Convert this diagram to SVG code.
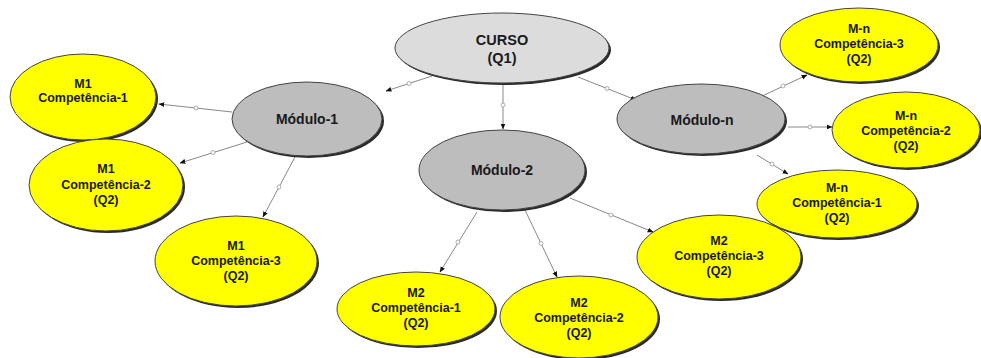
<svg xmlns="http://www.w3.org/2000/svg" width="981" height="358" viewBox="0 0 981 358">
<defs>
<marker id="arr" viewBox="0 0 10 10" refX="9" refY="5" markerWidth="6" markerHeight="6" orient="auto" markerUnits="userSpaceOnUse">
<path d="M0,1 L10,5 L0,9 z" fill="#111"/>
</marker>
<style>
.sh{fill:#2a2a2a}
.y{fill:#FFFF00;stroke:#444;stroke-width:1}
.g{fill:#BDBDBD;stroke:#444;stroke-width:1}
.c{fill:#DCDCDC;stroke:#444;stroke-width:1}
text{font-family:"Liberation Sans",Arial,sans-serif;font-weight:bold;fill:#1a1a1a;text-anchor:middle}
.t{font-size:12.5px}
.m{font-size:14px}
.cl{font-size:14.5px}
.ln{stroke:#888;stroke-width:1;fill:none;marker-end:url(#arr)}
.dot{fill:#fff;stroke:#999;stroke-width:0.8}
</style>
</defs>
<rect width="981" height="358" fill="#fff"/>
<g id="connectors">
<line class="ln" x1="432" y1="76" x2="386" y2="91"/>
<line class="ln" x1="503" y1="83" x2="503" y2="129"/>
<line class="ln" x1="578" y1="77" x2="636" y2="100"/>
<line class="ln" x1="232" y1="112" x2="159" y2="104"/>
<line class="ln" x1="247" y1="142" x2="180" y2="163"/>
<line class="ln" x1="295" y1="157" x2="263" y2="217"/>
<line class="ln" x1="477" y1="212" x2="440" y2="272"/>
<line class="ln" x1="525" y1="210" x2="557" y2="277"/>
<line class="ln" x1="570" y1="198" x2="653" y2="232"/>
<line class="ln" x1="760" y1="97" x2="807" y2="75"/>
<line class="ln" x1="788" y1="127" x2="832" y2="127"/>
<line class="ln" x1="757" y1="155" x2="788" y2="174"/>
<circle class="dot" cx="409" cy="83.5" r="2"/>
<circle class="dot" cx="503" cy="105" r="2"/>
<circle class="dot" cx="607" cy="88.5" r="2"/>
<circle class="dot" cx="196" cy="108" r="2"/>
<circle class="dot" cx="213" cy="152.5" r="2"/>
<circle class="dot" cx="279" cy="187" r="2"/>
<circle class="dot" cx="458" cy="242" r="2"/>
<circle class="dot" cx="541" cy="243.5" r="2"/>
<circle class="dot" cx="611" cy="215" r="2"/>
<circle class="dot" cx="783" cy="86" r="2"/>
<circle class="dot" cx="810" cy="127" r="2"/>
<circle class="dot" cx="772" cy="164" r="2"/>
</g>
<g id="curso">
<ellipse class="sh" cx="504" cy="50" rx="107" ry="35"/>
<ellipse class="c" cx="502" cy="48" rx="107" ry="35"/>
<text class="cl" x="502" y="45">CURSO</text>
<text class="cl" x="502" y="63">(Q1)</text>
</g>
<g id="modulo1">
<ellipse class="sh" cx="309" cy="121" rx="75" ry="37"/>
<ellipse class="g" cx="307" cy="119" rx="75" ry="37"/>
<text class="m" x="307" y="124">Módulo-1</text>
</g>
<g id="modulo2">
<ellipse class="sh" cx="504" cy="172" rx="83" ry="40"/>
<ellipse class="g" cx="502" cy="170" rx="83" ry="40"/>
<text class="m" x="502" y="175">Módulo-2</text>
</g>
<g id="modulon">
<ellipse class="sh" cx="703" cy="121" rx="84" ry="35"/>
<ellipse class="g" cx="701" cy="119" rx="84" ry="35"/>
<text class="m" x="702" y="125">Módulo-n</text>
</g>
<g id="m1c1">
<ellipse class="sh" cx="85" cy="99" rx="73" ry="43"/>
<ellipse class="y" cx="83" cy="97" rx="73" ry="43"/>
<text class="t" x="83" y="88">M1</text>
<text class="t" x="83" y="102">Competência-1</text>
</g>
<g id="m1c2">
<ellipse class="sh" cx="108" cy="187" rx="77" ry="46"/>
<ellipse class="y" cx="106" cy="185" rx="77" ry="46"/>
<text class="t" x="106" y="173">M1</text>
<text class="t" x="106" y="189">Competência-2</text>
<text class="t" x="106" y="204">(Q2)</text>
</g>
<g id="m1c3">
<ellipse class="sh" cx="238" cy="263" rx="81" ry="45"/>
<ellipse class="y" cx="236" cy="261" rx="81" ry="45"/>
<text class="t" x="236" y="250">M1</text>
<text class="t" x="236" y="265">Competência-3</text>
<text class="t" x="236" y="280">(Q2)</text>
</g>
<g id="m2c1">
<ellipse class="sh" cx="418" cy="311" rx="79" ry="37"/>
<ellipse class="y" cx="416" cy="309" rx="79" ry="37"/>
<text class="t" x="416" y="297">M2</text>
<text class="t" x="416" y="312">Competência-1</text>
<text class="t" x="416" y="327">(Q2)</text>
</g>
<g id="m2c2">
<ellipse class="sh" cx="581" cy="319" rx="79" ry="41"/>
<ellipse class="y" cx="579" cy="317" rx="79" ry="41"/>
<text class="t" x="579" y="307">M2</text>
<text class="t" x="579" y="322">Competência-2</text>
<text class="t" x="579" y="337">(Q2)</text>
</g>
<g id="m2c3">
<ellipse class="sh" cx="721" cy="259" rx="82" ry="42"/>
<ellipse class="y" cx="719" cy="257" rx="82" ry="42"/>
<text class="t" x="719" y="245">M2</text>
<text class="t" x="719" y="260">Competência-3</text>
<text class="t" x="719" y="275">(Q2)</text>
</g>
<g id="mnc1">
<ellipse class="sh" cx="839" cy="206" rx="80" ry="34"/>
<ellipse class="y" cx="837" cy="204" rx="80" ry="34"/>
<text class="t" x="837" y="192">M-n</text>
<text class="t" x="837" y="207">Competência-1</text>
<text class="t" x="837" y="222">(Q2)</text>
</g>
<g id="mnc2">
<ellipse class="sh" cx="908" cy="132" rx="74" ry="38"/>
<ellipse class="y" cx="906" cy="130" rx="74" ry="38"/>
<text class="t" x="906" y="120">M-n</text>
<text class="t" x="906" y="135">Competência-2</text>
<text class="t" x="906" y="150">(Q2)</text>
</g>
<g id="mnc3">
<ellipse class="sh" cx="861" cy="47" rx="79" ry="37"/>
<ellipse class="y" cx="859" cy="45" rx="79" ry="37"/>
<text class="t" x="859" y="33">M-n</text>
<text class="t" x="859" y="48">Competência-3</text>
<text class="t" x="859" y="63">(Q2)</text>
</g>
</svg>
